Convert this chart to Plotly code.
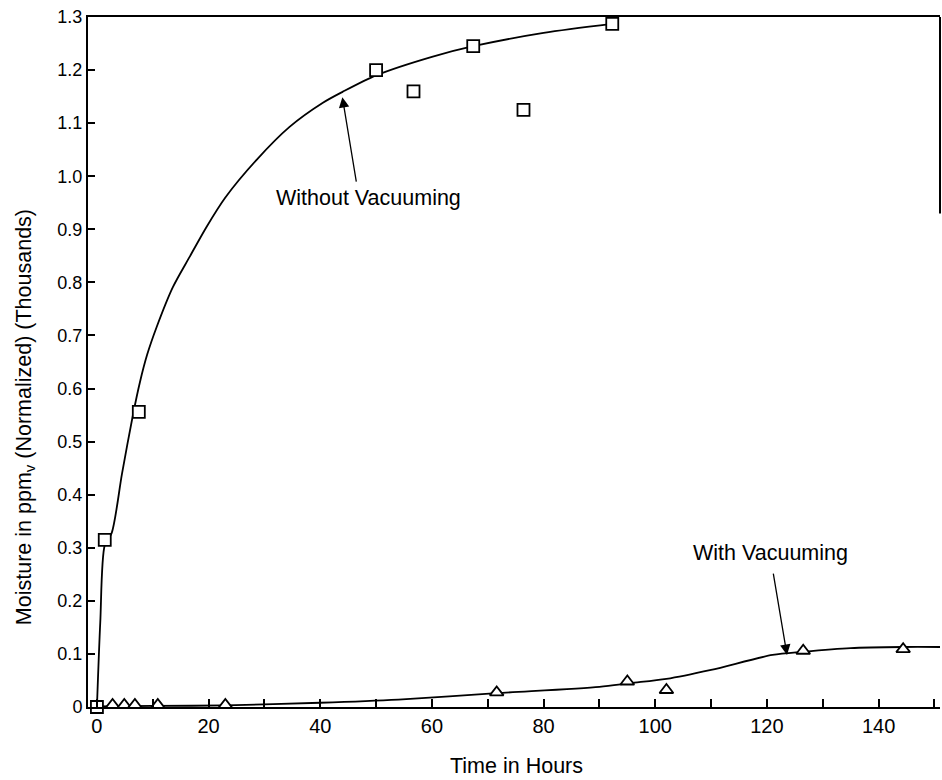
import plotly.graph_objects as go

# ---- data ----
# Without vacuuming: measured points
wo_x = [0, 1.4, 7.5, 50.0, 56.7, 67.4, 76.4, 92.3]
wo_y = [0, 0.315, 0.556, 1.200, 1.160, 1.245, 1.125, 1.287]
# Without vacuuming: fitted curve
wo_fit_x = [0, 0.6, 1.4, 2.65, 4.5, 6.5, 7.7, 9.0, 10.7, 13.6, 16.6, 19.6,
            23.0, 28.6, 34.5, 40.4, 44.0, 50.0, 60.0, 67.4, 80.0, 92.3]
wo_fit_y = [0, 0.16, 0.305, 0.328, 0.44, 0.553, 0.612, 0.664, 0.716, 0.791,
            0.848, 0.904, 0.96, 1.031, 1.093, 1.138, 1.159, 1.19, 1.225,
            1.245, 1.27, 1.287]

# With vacuuming: measured points
w_x = [2.8, 4.9, 6.8, 10.9, 23.0, 71.6, 95.0, 102.0, 126.5, 144.4]
w_y = [0.004, 0.004, 0.004, 0.004, 0.004, 0.0275, 0.048, 0.032, 0.106, 0.109]
# With vacuuming: fitted curve
w_fit_x = [0, 10, 23, 40, 54, 71.6, 90, 95.5, 102, 110, 121, 126.5, 135,
           144.4, 151]
w_fit_y = [0.001, 0.002, 0.003, 0.008, 0.014, 0.026, 0.038, 0.045, 0.053,
           0.07, 0.098, 0.104, 0.111, 0.113, 0.113]

y_tickvals = [0, 0.1, 0.2, 0.3, 0.4, 0.5, 0.6, 0.7, 0.8, 0.9, 1.0, 1.1, 1.2, 1.3]
y_ticktext = ["0", "0.1", "0.2", "0.3", "0.4", "0.5", "0.6", "0.7", "0.8",
              "0.9", "1.0", "1.1", "1.2", "1.3"]
x_tickvals = [0, 20, 40, 60, 80, 100, 120, 140]
x_ticktext = ["0", "20", "40", "60", "80", "100", "120", "140"]

FONT = "Liberation Sans, Arial, Helvetica, sans-serif"

fig = go.Figure()

fig.add_trace(go.Scatter(x=wo_fit_x, y=wo_fit_y, mode="lines",
                         line=dict(color="black", width=1.8, shape="spline",
                                   smoothing=0.8),
                         hoverinfo="skip", showlegend=False))
fig.add_trace(go.Scatter(x=w_fit_x, y=w_fit_y, mode="lines",
                         line=dict(color="black", width=1.8, shape="spline",
                                   smoothing=0.8),
                         hoverinfo="skip", showlegend=False))
fig.add_trace(go.Scatter(x=wo_x, y=wo_y, mode="markers", cliponaxis=False,
                         marker=dict(symbol="square", size=12, color="white",
                                     line=dict(color="black", width=1.8)),
                         name="Without Vacuuming", showlegend=False))
fig.add_trace(go.Scatter(x=w_x, y=w_y, mode="markers", cliponaxis=False,
                         marker=dict(symbol="triangle-up", size=12, color="white",
                                     line=dict(color="black", width=1.8)),
                         name="With Vacuuming", showlegend=False))

annotations = [
    dict(x=48.6, y=0.959, xref="x", yref="y", text="Without Vacuuming",
         showarrow=False, font=dict(family=FONT, size=21.5, color="black")),
    dict(x=120.6, y=0.290, xref="x", yref="y", text="With Vacuuming",
         showarrow=False, font=dict(family=FONT, size=21.5, color="black")),
    dict(x=43.96, y=1.149, xref="x", yref="y", ax=46.5, ay=0.987,
         axref="x", ayref="y", text="", showarrow=True, arrowhead=2,
         arrowsize=1.6, arrowwidth=1.3, arrowcolor="black"),
    dict(x=123.6, y=0.098, xref="x", yref="y", ax=121.1, ay=0.254,
         axref="x", ayref="y", text="", showarrow=True, arrowhead=2,
         arrowsize=1.6, arrowwidth=1.3, arrowcolor="black"),
    dict(x=0.5035, y=-0.0855, xref="paper", yref="paper", text="Time in Hours",
         showarrow=False, xanchor="center", yanchor="middle",
         font=dict(family=FONT, size=21.5, color="black")),
    dict(x=-0.074, y=0.42, xref="paper", yref="paper",
         text="Moisture in ppm<sub>v</sub> (Normalized) (Thousands)",
         showarrow=False, textangle=-90, xanchor="center", yanchor="middle",
         font=dict(family=FONT, size=21.5, color="black")),
]

fig.update_layout(
    width=942, height=780,
    margin=dict(l=88, r=2, t=17, b=73, autoexpand=False),
    paper_bgcolor="white", plot_bgcolor="white",
    font=dict(family=FONT, color="black"),
    annotations=annotations,
    shapes=[dict(type="line", xref="paper", yref="y", x0=1, x1=1,
                 y0=0.93, y1=1.3, line=dict(color="black", width=2))],
)
fig.update_xaxes(range=[-1.6, 151], showline=True, linecolor="black",
                 linewidth=2, mirror=True, showgrid=False, zeroline=False,
                 automargin=False,
                 tickmode="array", tickvals=x_tickvals, ticktext=x_ticktext,
                 ticks="inside", ticklen=8, tickwidth=1.5, tickcolor="black",
                 minor=dict(dtick=10, tick0=0, ticks="inside", ticklen=8,
                            tickwidth=1.5, tickcolor="black", showgrid=False),
                 tickfont=dict(family=FONT, size=20, color="black"))
fig.update_yaxes(range=[0, 1.3], showline=True, linecolor="black",
                 linewidth=2, showgrid=False, zeroline=False,
                 automargin=False,
                 tickmode="array", tickvals=y_tickvals, ticktext=y_ticktext,
                 ticks="inside", ticklen=7, tickwidth=1.5, tickcolor="black",
                 tickfont=dict(family=FONT, size=18, color="black"))

fig.write_html(
    "out.html",
    config={"displayModeBar": False},
    post_script="document.body.style.margin='0';"
                "document.body.style.padding='0';"
                "document.body.style.overflow='hidden';",
)
